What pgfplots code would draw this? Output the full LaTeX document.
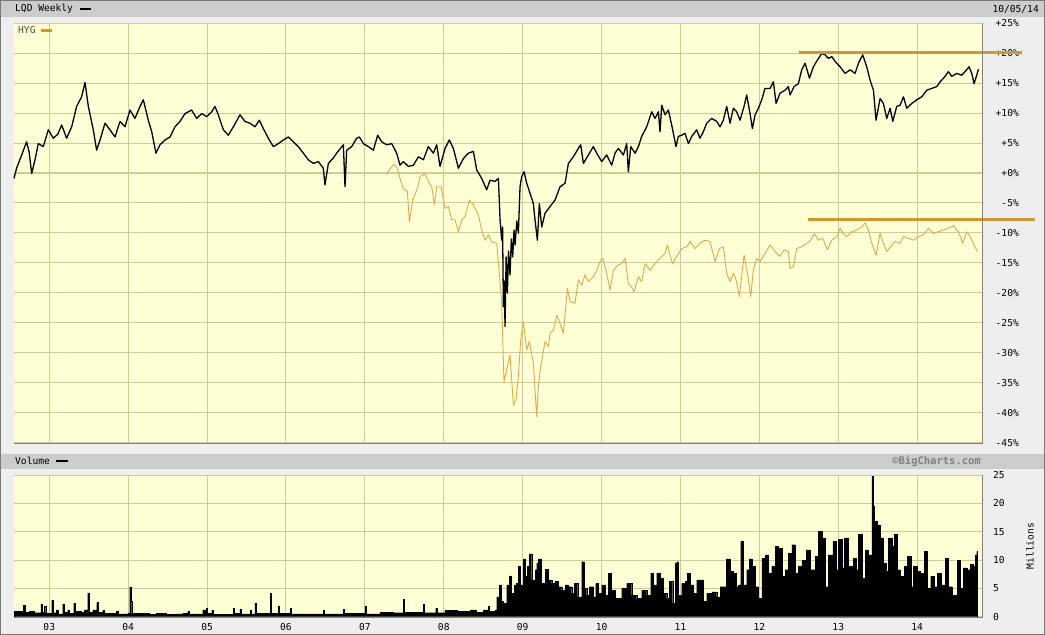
\documentclass[border=0pt]{standalone}
\usepackage{fontspec}
\setmainfont{DejaVu Sans Mono}
\usepackage{pgfplots}
\pgfplotsset{compat=1.18}
\definecolor{outerbg}{RGB}{238,238,238}
\definecolor{bandbg}{RGB}{204,204,204}
\definecolor{plotbg}{RGB}{255,255,214}
\definecolor{gridc}{RGB}{206,204,150}
\definecolor{hygc}{RGB}{222,170,80}
\definecolor{annotc}{RGB}{204,153,51}
\definecolor{edgec}{RGB}{130,130,130}
\definecolor{bordc}{RGB}{120,120,120}
\pgfplotsset{
  chartbase/.style={
    anchor=south west, scale only axis, width=967.7pt,
    xmin=2002.553, xmax=2014.817,
    xtick={2003,2004,...,2014},
    major tick length=0pt, tick style={draw=none},
    grid=major, major grid style={draw=gridc, line width=1pt},
    axis background/.style={fill=plotbg},
    axis line style={draw=none},
    yticklabel pos=right,
    ticklabel style={font=\fontsize{9.6pt}{11pt}\selectfont, inner sep=0pt},
  }
}
\begin{document}
\fontsize{9.6pt}{11pt}\selectfont
\begin{tikzpicture}[x=1pt,y=1pt]
\useasboundingbox (0,0) rectangle (1045,635);
\fill[outerbg] (0,0) rectangle (1045,635);
\fill[bandbg] (1,618.3) rectangle (1044,634);
\fill[bandbg] (1,166) rectangle (1044,181);
\draw[bordc, line width=1.2pt] (0.6,0.6) rectangle (1044.4,634.4);

% ---------- price panel ----------
\begin{axis}[chartbase,
  at={(14pt,192pt)}, height=420pt,
  ymin=-45, ymax=25,
  xticklabels={},
  ytick={-45,-40,...,25},
  yticklabels={-45\%,-40\%,-35\%,-30\%,-25\%,-20\%,-15\%,-10\%,-5\%,+0\%,+5\%,+10\%,+15\%,+20\%,+25\%},
  yticklabel style={anchor=east, xshift=37.3pt},
  clip=false,
]
\addplot[hygc, line width=0.9pt, line join=round] coordinates {
(2007.276,-0.1)(2007.361,1.4)(2007.403,1.1)(2007.445,-0.9)(2007.487,-2.6)(2007.538,-3.1)(2007.564,-8.1)(2007.606,-4.5)(2007.665,-2.6)(2007.699,-0.6)(2007.762,-0.1)(2007.804,-1.4)(2007.847,-2.3)(2007.880,-5.3)(2007.910,-2.3)(2007.965,-2.3)(2008.016,-5.9)(2008.058,-5.6)(2008.100,-7.8)(2008.142,-7.8)(2008.185,-9.8)(2008.227,-7.8)(2008.269,-7.3)(2008.324,-4.5)(2008.375,-5.3)(2008.438,-7.0)(2008.480,-9.5)(2008.523,-11.2)(2008.565,-10.3)(2008.607,-11.5)(2008.670,-11.7)(2008.704,-16.7)(2008.734,-21.7)(2008.763,-34.8)(2008.797,-32.8)(2008.839,-30.3)(2008.882,-38.7)(2008.915,-37.8)(2008.945,-33.9)(2008.975,-27.8)(2009.008,-24.8)(2009.051,-29.5)(2009.084,-28.1)(2009.135,-31.7)(2009.177,-40.6)(2009.198,-35.6)(2009.228,-32.3)(2009.283,-28.1)(2009.325,-28.9)(2009.346,-26.7)(2009.389,-26.2)(2009.431,-23.7)(2009.473,-25.1)(2009.516,-26.7)(2009.566,-19.2)(2009.600,-21.4)(2009.663,-21.7)(2009.705,-17.8)(2009.748,-18.7)(2009.790,-17.0)(2009.832,-18.1)(2009.895,-17.3)(2009.938,-16.2)(2009.980,-14.8)(2010.014,-14.2)(2010.064,-16.7)(2010.107,-19.5)(2010.149,-16.2)(2010.212,-15.3)(2010.255,-15.1)(2010.297,-14.2)(2010.339,-18.4)(2010.381,-19.0)(2010.411,-19.8)(2010.466,-17.3)(2010.508,-18.1)(2010.550,-15.1)(2010.614,-16.2)(2010.677,-15.1)(2010.740,-14.2)(2010.804,-13.4)(2010.833,-12.0)(2010.867,-13.7)(2010.901,-15.1)(2010.952,-13.9)(2011.015,-12.6)(2011.078,-12.3)(2011.121,-11.4)(2011.184,-12.6)(2011.247,-11.7)(2011.311,-11.2)(2011.374,-11.4)(2011.438,-14.8)(2011.493,-12.6)(2011.543,-12.3)(2011.585,-16.7)(2011.628,-18.1)(2011.670,-16.7)(2011.704,-17.8)(2011.746,-20.6)(2011.805,-13.7)(2011.847,-16.7)(2011.890,-20.6)(2011.923,-16.2)(2011.966,-14.2)(2012.008,-14.8)(2012.071,-13.4)(2012.135,-12.0)(2012.198,-13.1)(2012.261,-13.9)(2012.312,-12.8)(2012.367,-13.1)(2012.388,-15.9)(2012.431,-15.6)(2012.473,-12.6)(2012.536,-12.3)(2012.600,-11.7)(2012.642,-11.4)(2012.697,-10.1)(2012.748,-11.2)(2012.803,-10.9)(2012.862,-12.8)(2012.917,-11.2)(2012.980,-10.6)(2013.022,-9.2)(2013.064,-10.1)(2013.107,-10.6)(2013.170,-9.8)(2013.233,-9.5)(2013.297,-9.0)(2013.339,-8.3)(2013.381,-9.5)(2013.424,-11.7)(2013.478,-13.7)(2013.529,-10.1)(2013.571,-11.7)(2013.614,-13.1)(2013.664,-12.3)(2013.719,-11.4)(2013.783,-11.7)(2013.825,-10.6)(2013.888,-10.9)(2013.952,-11.2)(2014.015,-10.6)(2014.078,-10.3)(2014.142,-9.2)(2014.205,-10.1)(2014.268,-9.8)(2014.332,-9.5)(2014.395,-9.2)(2014.459,-8.8)(2014.522,-9.8)(2014.577,-11.7)(2014.628,-9.8)(2014.670,-10.6)(2014.720,-12.0)(2014.763,-13.1)
};
\addplot[black, line width=1.3pt, line join=round] coordinates {
(2002.553,-0.9)(2002.586,0.8)(2002.650,3.0)(2002.713,5.2)(2002.745,3.5)(2002.777,-0.1)(2002.819,2.2)(2002.861,4.9)(2002.924,4.4)(2002.988,7.2)(2003.051,5.8)(2003.110,6.5)(2003.157,8.0)(2003.220,5.8)(2003.284,7.7)(2003.347,11.1)(2003.410,12.7)(2003.453,15.1)(2003.495,11.1)(2003.558,7.2)(2003.600,3.8)(2003.643,5.5)(2003.706,8.3)(2003.769,7.2)(2003.833,6.0)(2003.896,8.6)(2003.960,7.7)(2004.023,10.5)(2004.086,9.1)(2004.150,11.1)(2004.192,12.2)(2004.255,8.8)(2004.298,6.9)(2004.352,3.3)(2004.403,4.7)(2004.467,5.5)(2004.530,6.0)(2004.593,7.7)(2004.657,8.6)(2004.720,9.9)(2004.804,10.5)(2004.868,9.1)(2004.931,9.9)(2004.995,9.4)(2005.058,10.2)(2005.100,11.1)(2005.142,9.7)(2005.206,7.2)(2005.269,6.3)(2005.333,7.7)(2005.417,9.7)(2005.480,8.6)(2005.544,8.3)(2005.607,7.7)(2005.662,8.8)(2005.713,7.4)(2005.776,5.8)(2005.840,4.4)(2005.903,4.9)(2005.966,5.5)(2006.030,6.0)(2006.093,5.2)(2006.156,4.4)(2006.220,3.3)(2006.283,2.2)(2006.347,1.6)(2006.410,1.9)(2006.473,0.8)(2006.494,-2.0)(2006.537,1.6)(2006.600,2.5)(2006.642,3.3)(2006.727,4.7)(2006.748,-2.3)(2006.769,3.8)(2006.833,4.4)(2006.896,5.8)(2006.930,6.0)(2006.980,4.9)(2007.044,4.4)(2007.107,3.8)(2007.162,6.3)(2007.213,5.2)(2007.276,4.7)(2007.340,4.9)(2007.403,3.3)(2007.445,1.3)(2007.487,1.9)(2007.551,1.1)(2007.614,1.3)(2007.678,2.7)(2007.741,2.2)(2007.804,4.4)(2007.868,3.3)(2007.910,4.7)(2007.952,1.1)(2008.016,4.1)(2008.070,5.5)(2008.121,4.1)(2008.185,0.8)(2008.248,2.4)(2008.311,3.3)(2008.375,3.6)(2008.417,0.5)(2008.480,-0.9)(2008.544,-2.8)(2008.586,-1.2)(2008.649,-1.4)(2008.692,-0.9)(2008.713,-7.8)(2008.734,-11.2)(2008.745,-9.0)(2008.755,-22.3)(2008.766,-18.0)(2008.776,-25.6)(2008.790,-14.0)(2008.806,-20.0)(2008.820,-13.0)(2008.839,-17.0)(2008.856,-11.0)(2008.873,-14.0)(2008.890,-9.5)(2008.903,-12.0)(2008.925,-8.0)(2008.945,-10.0)(2008.966,-2.3)(2008.987,-0.6)(2009.017,0.2)(2009.051,-1.7)(2009.093,-3.4)(2009.135,-5.1)(2009.156,-7.8)(2009.186,-11.2)(2009.211,-5.1)(2009.241,-9.0)(2009.283,-6.7)(2009.346,-5.6)(2009.410,-4.5)(2009.473,-2.3)(2009.537,-1.7)(2009.579,1.6)(2009.642,2.7)(2009.705,4.1)(2009.735,4.7)(2009.769,1.6)(2009.832,3.0)(2009.895,4.4)(2009.938,3.3)(2010.001,1.9)(2010.064,3.0)(2010.128,1.3)(2010.170,3.3)(2010.212,4.1)(2010.276,3.0)(2010.318,4.9)(2010.339,0.2)(2010.369,4.4)(2010.424,3.3)(2010.466,4.4)(2010.508,6.1)(2010.571,7.7)(2010.635,10.2)(2010.677,9.1)(2010.719,10.2)(2010.740,6.9)(2010.762,11.3)(2010.804,9.7)(2010.846,10.5)(2010.888,8.0)(2010.943,4.4)(2010.973,6.1)(2011.015,6.3)(2011.057,6.6)(2011.100,4.9)(2011.142,6.1)(2011.205,7.2)(2011.247,5.8)(2011.290,6.9)(2011.332,8.3)(2011.395,9.1)(2011.459,8.6)(2011.501,7.7)(2011.543,8.8)(2011.585,11.1)(2011.628,8.3)(2011.670,10.8)(2011.712,10.2)(2011.754,8.8)(2011.805,11.1)(2011.839,13.0)(2011.881,9.9)(2011.911,7.4)(2011.945,9.7)(2011.987,10.8)(2012.029,12.2)(2012.071,14.1)(2012.135,14.1)(2012.177,15.2)(2012.211,11.6)(2012.261,13.3)(2012.325,13.8)(2012.367,14.4)(2012.388,13.0)(2012.439,14.4)(2012.494,14.9)(2012.536,17.2)(2012.579,18.3)(2012.634,15.8)(2012.684,17.7)(2012.748,19.1)(2012.790,19.9)(2012.832,19.7)(2012.874,19.1)(2012.917,19.4)(2012.959,18.6)(2013.022,17.7)(2013.086,16.6)(2013.149,17.2)(2013.212,16.6)(2013.255,18.3)(2013.309,19.7)(2013.360,17.7)(2013.402,15.5)(2013.445,13.8)(2013.478,8.8)(2013.529,12.4)(2013.571,11.6)(2013.614,9.1)(2013.656,10.8)(2013.690,8.6)(2013.740,11.1)(2013.783,11.3)(2013.825,12.7)(2013.867,10.8)(2013.931,11.6)(2013.994,12.2)(2014.057,12.7)(2014.121,13.8)(2014.184,14.1)(2014.247,14.4)(2014.290,15.2)(2014.353,16.1)(2014.395,16.9)(2014.437,16.1)(2014.501,16.6)(2014.564,16.3)(2014.606,16.9)(2014.657,17.7)(2014.691,16.6)(2014.720,14.9)(2014.754,16.3)(2014.775,17.3)
};
\addplot[annotc, line width=2.6pt] coordinates {(2012.50,20.1)(2015.33,20.1)};
\addplot[annotc, line width=2.6pt] coordinates {(2012.61,-7.8)(2015.49,-7.8)};
\end{axis}
\draw[edgec, line width=1.5pt] (14,191.25) -- (982.45,191.25) -- (982.45,612);

% ---------- volume panel ----------
\begin{axis}[chartbase,
  at={(14pt,18.3pt)}, height=141.7pt,
  ymin=0, ymax=25,
  xticklabels={03,04,05,06,07,08,09,10,11,12,13,14},
  xticklabel style={anchor=center, yshift=-10.3pt},
  ytick={0,5,...,25},
  yticklabels={0,5,10,15,20,25},
  yticklabel style={anchor=west, xshift=11.3pt},
]
\addplot[const plot, fill=black, draw=black, line width=0.3pt] coordinates {
(2002.553,1.0)(2002.650,0.9)(2002.671,2.0)(2002.690,0.8)(2002.748,1.0)(2002.811,0.7)(2002.895,2.2)(2002.910,0.8)(2002.938,1.8)(2002.955,0.6)(2003.031,2.9)(2003.045,0.7)(2003.086,1.2)(2003.110,0.5)(2003.170,2.2)(2003.185,0.8)(2003.233,1.2)(2003.250,0.6)(2003.309,2.4)(2003.325,1.0)(2003.402,0.8)(2003.445,1.2)(2003.487,4.2)(2003.500,0.8)(2003.550,1.2)(2003.601,2.5)(2003.615,0.8)(2003.677,1.1)(2003.700,0.6)(2003.846,1.0)(2003.870,0.5)(2003.994,0.6)(2004.019,5.3)(2004.032,2.8)(2004.045,0.6)(2004.184,0.6)(2004.268,0.4)(2004.353,0.6)(2004.480,0.4)(2004.606,0.5)(2004.691,0.6)(2004.754,1.0)(2004.770,0.5)(2004.944,1.2)(2004.987,1.5)(2005.000,0.6)(2005.058,1.1)(2005.075,0.4)(2005.332,1.5)(2005.345,0.6)(2005.417,1.4)(2005.430,0.5)(2005.544,1.2)(2005.560,0.5)(2005.607,2.4)(2005.620,0.6)(2005.801,4.1)(2005.814,0.6)(2005.903,1.9)(2005.917,0.6)(2006.051,1.5)(2006.065,0.5)(2006.473,1.2)(2006.487,0.5)(2006.727,1.3)(2006.740,0.6)(2007.001,1.8)(2007.015,0.5)(2007.191,0.8)(2007.360,0.7)(2007.487,3.1)(2007.500,0.8)(2007.741,2.2)(2007.755,0.7)(2007.897,1.5)(2007.910,0.7)(2008.015,1.1)(2008.163,1.0)(2008.247,0.9)(2008.332,1.2)(2008.416,0.8)(2008.501,1.2)(2008.564,1.8)(2008.580,0.9)(2008.649,1.2)(2008.670,3.5)(2008.700,5.6)(2008.725,2.7)(2008.754,2.4)(2008.797,5.6)(2008.830,7.2)(2008.851,4.1)(2008.890,5.6)(2008.923,5.9)(2008.945,8.9)(2008.966,5.6)(2009.008,10.2)(2009.029,7.1)(2009.059,8.9)(2009.084,11.1)(2009.114,6.5)(2009.156,8.3)(2009.177,9.5)(2009.198,10.2)(2009.240,5.9)(2009.283,8.4)(2009.325,6.5)(2009.367,5.9)(2009.409,6.2)(2009.452,5.3)(2009.494,4.7)(2009.536,5.6)(2009.578,5.3)(2009.621,4.1)(2009.654,5.9)(2009.697,3.5)(2009.747,9.7)(2009.777,5.0)(2009.811,3.8)(2009.844,5.3)(2009.895,3.5)(2009.925,5.9)(2009.958,4.1)(2010.001,5.6)(2010.043,3.8)(2010.085,7.7)(2010.127,4.7)(2010.170,3.2)(2010.254,5.0)(2010.318,5.9)(2010.381,3.8)(2010.444,3.2)(2010.508,4.7)(2010.571,3.8)(2010.622,7.7)(2010.656,5.6)(2010.698,7.7)(2010.740,6.8)(2010.782,4.1)(2010.825,3.2)(2010.858,6.2)(2010.901,2.4)(2010.930,9.5)(2010.951,9.7)(2010.973,3.8)(2011.015,5.9)(2011.057,6.2)(2011.087,7.7)(2011.120,5.6)(2011.163,4.1)(2011.205,6.5)(2011.290,2.7)(2011.332,4.1)(2011.396,4.4)(2011.459,3.5)(2011.501,5.3)(2011.544,5.3)(2011.578,10.2)(2011.628,8.0)(2011.670,7.7)(2011.704,5.3)(2011.734,5.6)(2011.763,13.3)(2011.797,5.6)(2011.839,8.3)(2011.873,10.2)(2011.903,8.9)(2011.945,5.3)(2011.987,3.2)(2012.030,10.3)(2012.072,10.9)(2012.114,7.7)(2012.156,8.9)(2012.199,12.4)(2012.241,12.1)(2012.283,7.1)(2012.325,8.3)(2012.368,11.2)(2012.410,12.7)(2012.452,7.7)(2012.494,8.9)(2012.537,10.0)(2012.591,11.8)(2012.642,8.3)(2012.706,10.6)(2012.748,15.1)(2012.790,13.9)(2012.832,5.3)(2012.875,10.9)(2012.930,13.3)(2012.972,8.3)(2013.001,13.6)(2013.044,8.6)(2013.077,13.9)(2013.128,8.9)(2013.191,10.3)(2013.225,8.3)(2013.255,14.5)(2013.297,6.8)(2013.339,11.8)(2013.381,10.9)(2013.424,24.8)(2013.436,19.5)(2013.457,16.8)(2013.487,16.2)(2013.529,13.9)(2013.572,9.5)(2013.605,8.0)(2013.635,13.9)(2013.677,12.4)(2013.711,14.5)(2013.741,8.3)(2013.783,7.1)(2013.834,8.9)(2013.876,10.6)(2013.918,5.3)(2013.952,8.9)(2013.994,8.0)(2014.036,7.7)(2014.087,11.5)(2014.129,5.0)(2014.171,7.1)(2014.214,5.3)(2014.256,7.7)(2014.298,5.6)(2014.353,10.3)(2014.395,5.3)(2014.438,3.8)(2014.480,3.8)(2014.509,10.0)(2014.543,5.0)(2014.586,8.6)(2014.628,8.3)(2014.670,9.2)(2014.704,8.9)(2014.733,10.9)(2014.754,11.5)(2014.765,11.5)
} \closedcycle;
\end{axis}
\draw[edgec, line width=1.5pt] (14,17.55) -- (982.45,17.55) -- (982.45,160);

% ---------- headers and labels ----------
\node[anchor=west, inner sep=0pt] at (15,626) {LQD Weekly};
\fill[black] (80,624.7) rectangle (91,627.3);
\node[anchor=east, inner sep=0pt] at (1039,626) {10/05/14};
\node[anchor=west, inner sep=0pt, text=black!70] at (18,604.5) {HYG};
\fill[annotc] (41,603.3) rectangle (52,605.7);
\node[anchor=west, inner sep=0pt] at (15,174) {Volume};
\fill[black] (56,172.8) rectangle (68,175.2);
\node[anchor=east, inner sep=0pt, text=black!50, font=\fontsize{10.5pt}{12pt}\selectfont\bfseries] at (981,174) {©BigCharts.com};
\node[rotate=90, inner sep=0pt] at (1030,89) {Millions};
\end{tikzpicture}
\end{document}
